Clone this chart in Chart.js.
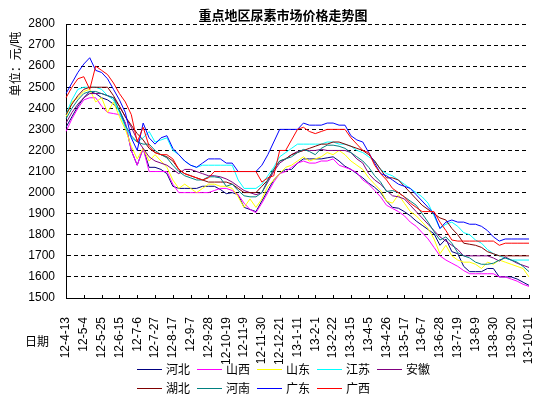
<!DOCTYPE html>
<html>
<head>
<meta charset="utf-8">
<script src="https://cdn.jsdelivr.net/npm/chart.js@4.4.1/dist/chart.umd.min.js"></script>
<style>
  html, body { margin: 0; padding: 0; background: #fff; }
  #wrap { width: 559px; height: 394px; }
</style>
</head>
<body>
<div id="wrap"><canvas id="priceChart" width="559" height="394"></canvas></div>
<script>
// --- data (weekly, yuan/ton) ---
const weeks = ["12-4-13","12-4-20","12-4-27","12-5-4","12-5-11","12-5-18","12-5-25","12-6-1","12-6-8","12-6-15",
  "12-6-22","12-6-29","12-7-6","12-7-13","12-7-20","12-7-27","12-8-3","12-8-10","12-8-17","12-8-24",
  "12-8-31","12-9-7","12-9-14","12-9-21","12-9-28","12-10-5","12-10-12","12-10-19","12-10-26","12-11-2",
  "12-11-9","12-11-16","12-11-23","12-11-30","12-12-7","12-12-14","12-12-21","12-12-28","13-1-4","13-1-11",
  "13-1-18","13-1-25","13-2-1","13-2-8","13-2-15","13-2-22","13-3-1","13-3-8","13-3-15","13-3-22",
  "13-3-29","13-4-5","13-4-12","13-4-19","13-4-26","13-5-3","13-5-10","13-5-17","13-5-24","13-5-31",
  "13-6-7","13-6-14","13-6-21","13-6-28","13-7-5","13-7-12","13-7-19","13-7-26","13-8-2","13-8-9",
  "13-8-16","13-8-23","13-8-30","13-9-6","13-9-13","13-9-20","13-9-27","13-10-4","13-10-11"];

const hebei = [2310,2360,2410,2450,2480,2470,2450,2440,2420,2390,
  2330,2200,2130,2210,2120,2120,2110,2090,2030,2020,
  2020,2020,2020,2030,2030,2030,2015,1995,2000,1990,
  1930,1920,1910,1960,2010,2060,2090,2110,2110,2140,
  2160,2160,2160,2160,2165,2170,2150,2125,2110,2090,
  2070,2045,2025,2000,1960,1930,1926,1910,1890,1865,
  1845,1825,1805,1750,1780,1720,1710,1650,1625,1625,
  1625,1640,1640,1600,1600,1600,1590,1575,1560];
const shanxi = [2290,2350,2400,2440,2450,2450,2410,2380,2375,2370,
  2330,2200,2130,2210,2100,2100,2100,2100,2040,2000,
  2000,2000,2000,2000,2000,2010,2020,2020,2010,1990,
  1950,1920,1905,1950,2000,2050,2090,2100,2120,2140,
  2150,2140,2140,2150,2150,2160,2130,2120,2110,2095,
  2060,2040,2010,1980,1940,1925,1910,1890,1860,1840,
  1810,1780,1740,1700,1680,1665,1650,1630,1615,1615,
  1615,1615,1615,1600,1600,1590,1580,1565,1555];
const shandong = [2360,2430,2450,2480,2490,2430,2450,2380,2430,2360,
  2300,2220,2160,2210,2150,2180,2150,2120,2060,2020,
  2040,2020,2000,2020,2040,2040,2030,2030,2020,1980,
  1930,1970,1930,1970,2030,2060,2090,2120,2130,2150,
  2170,2150,2160,2170,2190,2180,2200,2180,2150,2130,
  2110,2070,2040,2010,1960,1950,1990,1950,1910,1890,
  1860,1830,1780,1710,1750,1700,1680,1670,1670,1660,
  1640,1670,1660,1680,1670,1660,1650,1640,1600];
const jiangsu = [2370,2440,2490,2500,2500,2500,2490,2460,2440,2380,
  2310,2260,2240,2260,2290,2240,2250,2260,2200,2180,
  2150,2130,2120,2130,2130,2130,2130,2130,2130,2060,
  2020,2020,2020,2040,2080,2120,2170,2190,2210,2230,
  2230,2230,2230,2230,2240,2240,2230,2230,2220,2200,
  2190,2170,2150,2110,2090,2080,2060,2040,2020,2000,
  1980,1950,1890,1830,1850,1860,1840,1810,1800,1775,
  1760,1730,1710,1700,1690,1680,1680,1680,1680];
const anhui = [2330,2380,2420,2450,2470,2470,2470,2460,2450,2410,
  2360,2310,2250,2210,2170,2150,2140,2130,2110,2090,
  2110,2110,2100,2090,2080,2080,2075,2065,2050,2030,
  2010,2000,1990,2000,2050,2100,2140,2160,2180,2195,
  2200,2200,2200,2205,2200,2200,2200,2200,2190,2160,
  2140,2090,2060,2040,2010,1985,1980,1970,1940,1910,
  1880,1850,1820,1790,1770,1750,1730,1700,1700,1700,
  1700,1700,1690,1675,1695,1680,1665,1655,1645];
const hubei = [2370,2420,2460,2490,2500,2500,2500,2500,2460,2410,
  2360,2320,2280,2250,2210,2190,2180,2170,2150,2110,
  2090,2080,2070,2060,2050,2050,2050,2050,2040,2020,
  2000,2000,2000,2030,2060,2110,2150,2160,2180,2190,
  2200,2210,2220,2230,2230,2240,2240,2230,2220,2210,
  2200,2180,2150,2110,2070,2070,2060,2030,2000,1970,
  1940,1920,1900,1880,1870,1830,1800,1760,1755,1750,
  1740,1720,1710,1700,1700,1700,1700,1700,1700];
const henan = [2350,2400,2440,2470,2480,2480,2470,2460,2450,2390,
  2320,2270,2240,2230,2230,2200,2180,2165,2130,2100,
  2080,2070,2060,2060,2075,2075,2070,2030,2040,2010,
  1985,1980,1980,2000,2060,2110,2150,2160,2170,2190,
  2205,2195,2180,2210,2225,2225,2220,2210,2190,2170,
  2150,2120,2080,2050,2005,2010,2000,1980,1960,1940,
  1900,1860,1815,1775,1790,1760,1715,1700,1690,1670,
  1660,1660,1665,1680,1690,1680,1670,1650,1625];
const guangdong = [2470,2520,2570,2610,2640,2580,2570,2540,2490,2440,
  2380,2260,2200,2330,2260,2230,2260,2270,2210,2180,
  2150,2130,2120,2140,2160,2160,2160,2140,2140,2100,
  2100,2100,2100,2130,2180,2240,2300,2300,2300,2300,
  2330,2320,2320,2320,2330,2330,2320,2320,2270,2250,
  2240,2190,2140,2090,2080,2060,2040,2030,2020,1990,
  1960,1930,1900,1830,1860,1870,1860,1860,1850,1850,
  1840,1820,1790,1770,1780,1780,1780,1780,1780];
const guangxi = [2450,2500,2540,2550,2490,2600,2580,2560,2520,2470,
  2430,2370,2240,2310,2220,2190,2180,2180,2160,2110,
  2090,2080,2070,2060,2070,2100,2100,2100,2100,2100,
  2100,2100,2100,2050,2070,2080,2200,2200,2250,2300,
  2310,2290,2280,2290,2300,2300,2300,2300,2260,2230,
  2200,2190,2130,2090,2060,2020,2000,1980,1950,1930,
  1910,1910,1910,1860,1820,1775,1770,1770,1770,1770,
  1770,1770,1770,1750,1760,1760,1760,1760,1760];

const regions = ['河北', '山西', '山东', '江苏', '安徽', '湖北', '河南', '广东', '广西'];
const colors = ['#000080', '#FF00FF', '#FFFF00', '#00FFFF', '#800080', '#800000', '#008080', '#0000FF', '#FF0000'];
const series = [hebei, shanxi, shandong, jiangsu, anhui, hubei, henan, guangdong, guangxi];

const CJK = '"Noto Sans CJK SC", sans-serif';
const LATIN = '"Liberation Sans", Arial, sans-serif';

// --- extra texts, inside ticks and the legend ---
const decorations = {
    id: 'decorations',
    afterDraw(chart) {
        const ctx = chart.ctx;
        const area = chart.chartArea;
        const xs = chart.scales.x;
        ctx.save();

        // category ticks pointing into the plot
        ctx.strokeStyle = '#000';
        ctx.lineWidth = 1;
        ctx.beginPath();
        for (let i = 0; i < weeks.length; i += 3) {
            const x = Math.round(xs.getPixelForValue(i)) + 0.5;
            ctx.moveTo(x, area.bottom);
            ctx.lineTo(x, area.bottom - 3);
        }
        ctx.stroke();

        ctx.fillStyle = '#000';
        ctx.textBaseline = 'middle';

        // title
        ctx.font = 'bold 13px ' + CJK;
        ctx.textAlign = 'center';
        ctx.fillText('重点地区尿素市场价格走势图', 283, 15);

        // axis names
        ctx.font = '12px ' + CJK;
        ctx.fillText('日期', 37, 341);
        ctx.save();
        ctx.translate(15, 64);
        ctx.rotate(-Math.PI / 2);
        ctx.fillText('单位：元/吨', 0, 0);
        ctx.restore();

        // legend: two left-aligned rows
        ctx.textAlign = 'left';
        chart.data.datasets.forEach((ds, i) => {
            const row = i < 5 ? 0 : 1;
            const col = i < 5 ? i : i - 5;
            const x = 137 + col * 60;
            const y = row === 0 ? 369 : 388;
            ctx.strokeStyle = colors[i];
            ctx.lineWidth = 1;
            ctx.beginPath();
            ctx.moveTo(x, y + 0.5);
            ctx.lineTo(x + 25, y + 0.5);
            ctx.stroke();
            ctx.fillText(ds.label, x + 29, y);
        });
        ctx.restore();
    }
};

new Chart(document.getElementById('priceChart'), {
    type: 'line',
    data: {
        labels: weeks,
        datasets: regions.map((name, i) => ({
            label: name,
            data: series[i],
            borderColor: colors[i],
            backgroundColor: colors[i],
            borderWidth: 1,
            pointRadius: 0,
            tension: 0,
            order: regions.length - i
        }))
    },
    options: {
        responsive: false,
        animation: false,
        events: [],
        layout: { padding: { left: 0, right: 30, top: 24, bottom: 0 } },
        plugins: { legend: { display: false }, title: { display: false }, tooltip: { enabled: false } },
        scales: {
            x: {
                offset: false,
                grid: { display: false },
                border: { display: true, color: '#000', width: 1 },
                ticks: {
                    autoSkip: false,
                    minRotation: 90,
                    maxRotation: 90,
                    padding: 11,
                    color: '#000',
                    font: { family: LATIN, size: 12 },
                    callback: function (v, i) { return i % 3 === 0 ? this.getLabelForValue(v) : null; }
                },
                afterFit: (s) => { s.height = 96; }
            },
            y: {
                min: 1500,
                max: 2800,
                grid: { color: '#000', lineWidth: 1, drawTicks: false },
                border: { display: true, color: '#000', width: 1, dash: [4, 3] },
                ticks: {
                    stepSize: 100,
                    padding: 11,
                    color: '#000',
                    font: { family: LATIN, size: 12 },
                    callback: (v) => String(v)
                },
                afterFit: (s) => { s.width = 66; }
            }
        }
    },
    plugins: [decorations]
});
</script>
</body>
</html>
